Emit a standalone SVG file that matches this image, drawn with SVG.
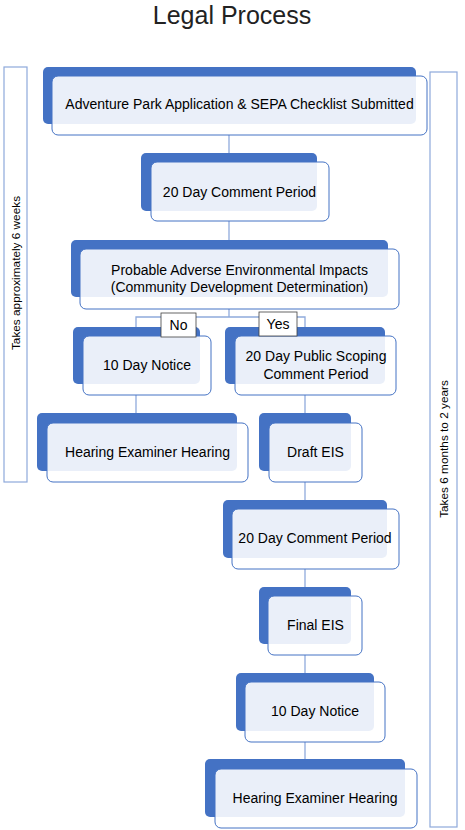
<svg xmlns="http://www.w3.org/2000/svg" width="465" height="830" viewBox="0 0 465 830">
<style>
.bk{fill:#4472C4;}
.fr{fill:#ffffff;fill-opacity:0.89;stroke:#4472C4;stroke-width:1;}
.t{font-family:"Liberation Sans",Arial,sans-serif;font-size:14px;fill:#000;text-anchor:middle;}
.s{font-family:"Liberation Sans",Arial,sans-serif;font-size:11.8px;fill:#000;text-anchor:middle;}
.c{stroke:#8FAADC;stroke-width:1.3;fill:none;}
.br{fill:#fff;stroke:#8EA9DB;stroke-width:1.2;}
.lb{fill:#fff;stroke:#404040;stroke-width:0.8;}
</style>
<rect width="465" height="830" fill="#fff"/>
<text x="232" y="24" style="font-family:'Liberation Sans',Arial,sans-serif;font-size:25px;fill:#222;text-anchor:middle">Legal Process</text>
<g id="bracket-left">
<rect class="br" x="4" y="67" width="23" height="415"/>
<text class="s" transform="translate(20,273) rotate(-90)">Takes approximately 6 weeks</text>
</g>
<g id="bracket-right">
<rect class="br" x="430" y="72" width="27" height="755"/>
<text class="s" transform="translate(448,449) rotate(-90)">Takes 6 months to 2 years</text>
</g>
<g id="connectors">
<line class="c" x1="229" y1="135" x2="229" y2="162"/>
<line class="c" x1="229" y1="221" x2="229" y2="249"/>
<polyline class="c" points="229,309 229,317"/>
<polyline class="c" points="136,336 136,317 305,317 305,336"/>
<line class="c" x1="136" y1="395" x2="136" y2="423"/>
<line class="c" x1="305" y1="395" x2="305" y2="423"/>
<line class="c" x1="305" y1="482" x2="305" y2="509"/>
<line class="c" x1="305" y1="569" x2="305" y2="596"/>
<line class="c" x1="305" y1="655" x2="305" y2="682"/>
<line class="c" x1="305" y1="742" x2="305" y2="769"/>
</g>
<g id="n1">
<rect class="bk" x="43" y="67" width="373" height="57" rx="5"/>
<rect class="fr" x="52" y="76" width="375" height="59" rx="6"/>
<text class="t" x="239.5" y="109">Adventure Park Application &amp; SEPA Checklist Submitted</text>
</g>
<g id="n2">
<rect class="bk" x="141" y="153" width="176" height="58" rx="5"/>
<rect class="fr" x="151" y="162" width="178" height="59" rx="6"/>
<text class="t" x="239.5" y="197">20 Day Comment Period</text>
</g>
<g id="n3">
<rect class="bk" x="71" y="240" width="317" height="57" rx="5"/>
<rect class="fr" x="80" y="249" width="319" height="60" rx="6"/>
<text class="t" x="239.5" y="275">Probable Adverse Environmental Impacts</text>
<text class="t" x="239.5" y="292">(Community Development Determination)</text>
</g>
<g id="n4">
<rect class="bk" x="73" y="327" width="127" height="57" rx="5"/>
<rect class="fr" x="83" y="336" width="128" height="59" rx="6"/>
<text class="t" x="147" y="370">10 Day Notice</text>
</g>
<g id="n5">
<rect class="bk" x="225" y="327" width="160" height="57" rx="5"/>
<rect class="fr" x="235" y="336" width="161" height="59" rx="6"/>
<text class="t" x="316" y="361">20 Day Public Scoping</text>
<text class="t" x="316" y="379">Comment Period</text>
</g>
<g id="lbl-no">
<rect class="lb" x="161" y="313" width="35" height="24"/>
<text class="t" x="178.5" y="330">No</text>
</g>
<g id="lbl-yes">
<rect class="lb" x="259" y="312" width="38" height="24"/>
<text class="t" x="278" y="329">Yes</text>
</g>
<g id="n6">
<rect class="bk" x="37" y="413" width="200" height="58" rx="5"/>
<rect class="fr" x="47" y="423" width="201" height="59" rx="6"/>
<text class="t" x="147.5" y="457">Hearing Examiner Hearing</text>
</g>
<g id="n7">
<rect class="bk" x="259" y="413" width="92" height="58" rx="5"/>
<rect class="fr" x="269" y="423" width="93" height="59" rx="6"/>
<text class="t" x="315.5" y="457">Draft EIS</text>
</g>
<g id="n8">
<rect class="bk" x="223" y="500" width="164" height="58" rx="5"/>
<rect class="fr" x="232" y="509" width="167" height="60" rx="6"/>
<text class="t" x="315" y="543">20 Day Comment Period</text>
</g>
<g id="n9">
<rect class="bk" x="259" y="587" width="92" height="57" rx="5"/>
<rect class="fr" x="268" y="596" width="94" height="59" rx="6"/>
<text class="t" x="315.5" y="630">Final EIS</text>
</g>
<g id="n10">
<rect class="bk" x="236" y="673" width="138" height="58" rx="5"/>
<rect class="fr" x="245" y="682" width="140" height="60" rx="6"/>
<text class="t" x="315" y="716">10 Day Notice</text>
</g>
<g id="n11">
<rect class="bk" x="205" y="759" width="200" height="58" rx="5"/>
<rect class="fr" x="215" y="769" width="202" height="59" rx="6"/>
<text class="t" x="315" y="803">Hearing Examiner Hearing</text>
</g>
</svg>
